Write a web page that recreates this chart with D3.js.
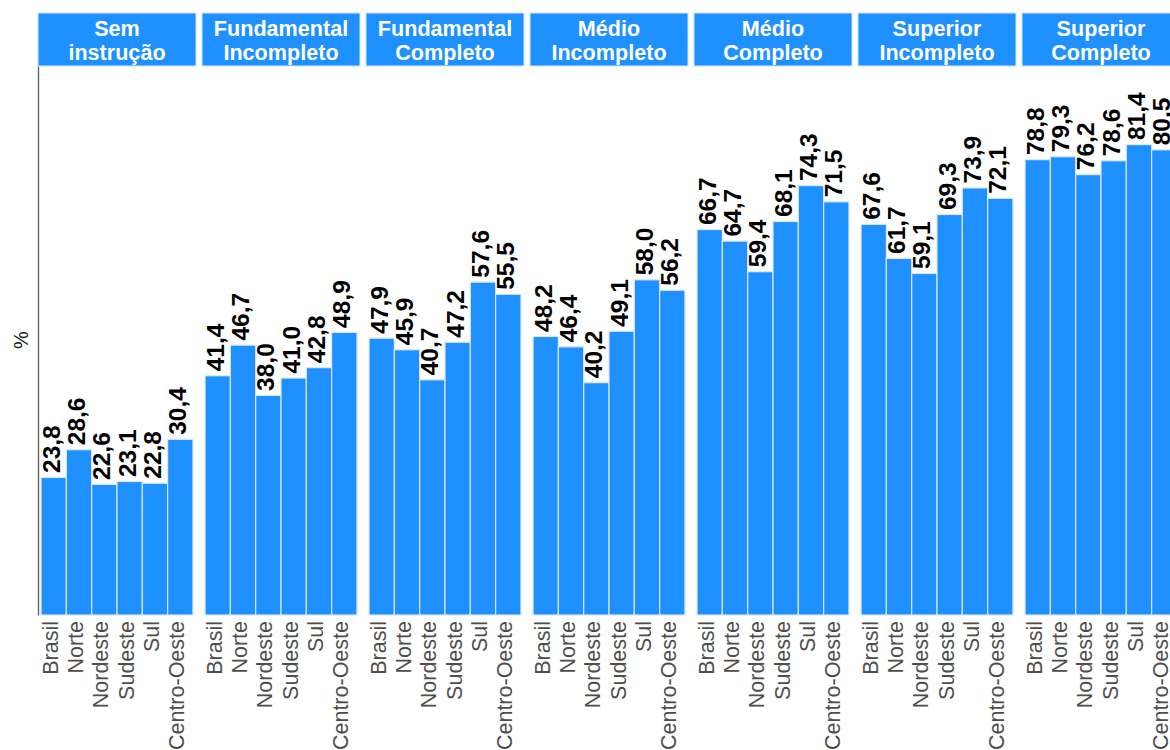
<!DOCTYPE html>
<html>
<head>
<meta charset="utf-8">
<script src="https://cdn.jsdelivr.net/npm/d3@7"></script>
<style>
  html, body { margin: 0; padding: 0; background: #fff; overflow: hidden; }
  svg { display: block; font-family: "Liberation Sans", Arial, Helvetica, sans-serif; }
</style>
</head>
<body>
<svg id="chart" width="1170" height="750"></svg>
<script>
// ---- data ----
const panels = [
  ["Sem", "instrução"],
  ["Fundamental", "Incompleto"],
  ["Fundamental", "Completo"],
  ["Médio", "Incompleto"],
  ["Médio", "Completo"],
  ["Superior", "Incompleto"],
  ["Superior", "Completo"]
];
const regions = ["Brasil", "Norte", "Nordeste", "Sudeste", "Sul", "Centro-Oeste"];
const semInstrucao        = [23.8, 28.6, 22.6, 23.1, 22.8, 30.4];
const fundIncompleto      = [41.4, 46.7, 38.0, 41.0, 42.8, 48.9];
const fundCompleto        = [47.9, 45.9, 40.7, 47.2, 57.6, 55.5];
const medioIncompleto     = [48.2, 46.4, 40.2, 49.1, 58.0, 56.2];
const medioCompleto       = [66.7, 64.7, 59.4, 68.1, 74.3, 71.5];
const superiorIncompleto  = [67.6, 61.7, 59.1, 69.3, 73.9, 72.1];
const superiorCompleto    = [78.8, 79.3, 76.2, 78.6, 81.4, 80.5];
const seriesValues = [semInstrucao, fundIncompleto, fundCompleto, medioIncompleto,
                      medioCompleto, superiorIncompleto, superiorCompleto];
const yLabel = "%";

// ---- layout ----
const svg = d3.select("#chart");
const left = 38, panelW = 158, gap = 6;
const stripTop = 13, stripBottom = 66, plotBottom = 615;
const blue = "#1E90FF";

const px = d3.scaleBand().domain(d3.range(panels.length))
  .range([left, left + panels.length * panelW + (panels.length - 1) * gap])
  .paddingInner(gap / (panelW + gap)).paddingOuter(0);

const y = d3.scaleLinear().domain([0, 95]).range([plotBottom, stripBottom]);
const fmt = v => d3.format(".1f")(v).replace(".", ",");

panels.forEach((title, i) => {
  const x0 = px(i);
  const g = svg.append("g").attr("transform", `translate(${x0},0)`);
  const x = d3.scaleBand().domain(regions).range([0, px.bandwidth()])
    .paddingInner(0).paddingOuter(0.12);

  // strip
  g.append("rect").attr("x", 0).attr("y", stripTop)
    .attr("width", px.bandwidth()).attr("height", stripBottom - stripTop)
    .attr("fill", blue).attr("stroke", "#d3e6f8").attr("stroke-width", 1);
  const st = g.append("text").attr("x", px.bandwidth() / 2).attr("text-anchor", "middle")
    .attr("fill", "#fff").attr("font-weight", "bold").attr("font-size", 21.6);
  st.append("tspan").attr("x", px.bandwidth() / 2).attr("y", 36).text(title[0]);
  st.append("tspan").attr("x", px.bandwidth() / 2).attr("y", 60).text(title[1]);

  const data = regions.map((r, j) => ({ r, v: seriesValues[i][j] }));

  // bars
  g.selectAll("rect.bar").data(data).join("rect").attr("class", "bar")
    .attr("x", d => x(d.r)).attr("width", x.bandwidth())
    .attr("y", d => y(d.v)).attr("height", d => y(0) - y(d.v))
    .attr("fill", blue).attr("stroke", "#dbe7f3").attr("stroke-width", 1.2);

  // value labels
  g.selectAll("text.val").data(data).join("text").attr("class", "val")
    .attr("transform", d => `translate(${x(d.r) + x.bandwidth() / 2 + 6},${y(d.v) - 4.5}) rotate(-90)`)
    .attr("text-anchor", "start").attr("font-weight", "bold").attr("font-size", 24.5)
    .attr("fill", "#000").text(d => fmt(d.v));

  // x axis labels
  const ax = g.append("g").attr("transform", `translate(0,${plotBottom})`)
    .call(d3.axisBottom(x).tickSize(0).tickPadding(0));
  ax.select(".domain").remove();
  ax.selectAll(".tick text")
    .attr("transform", "translate(4,6) rotate(-90)")
    .attr("x", 0).attr("y", 0).attr("dy", 0)
    .attr("text-anchor", "end")
    .attr("font-size", 21.5).attr("font-family", "Liberation Sans, Arial, sans-serif")
    .attr("fill", "#4d4d4d");
});

// y axis line (no ticks)
const yAxis = svg.append("g").attr("transform", `translate(${left},0)`)
  .call(d3.axisLeft(y).tickValues([]).tickSizeOuter(0));
yAxis.select(".domain").attr("stroke", "#5a5a5a").attr("stroke-width", 1.3);

svg.append("text").attr("transform", `translate(28,340) rotate(-90)`)
  .attr("text-anchor", "middle").attr("font-size", 20).attr("fill", "#1a1a1a").text(yLabel);
</script>
</body>
</html>
